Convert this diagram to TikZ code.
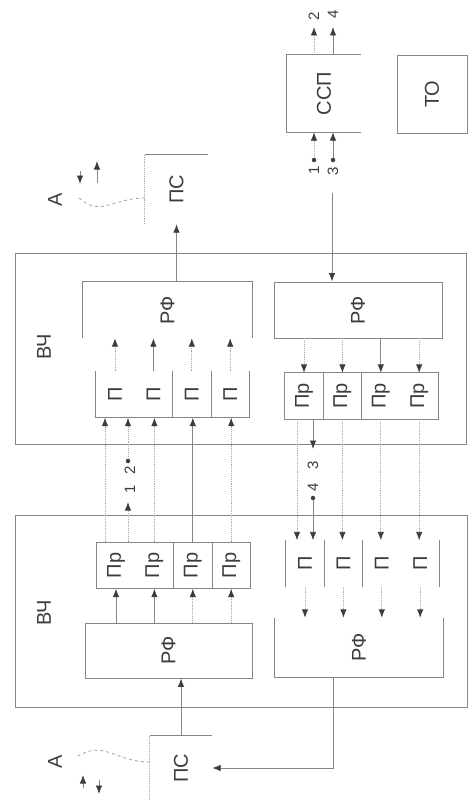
\documentclass[tikz,border=0pt]{standalone}
\usepackage{fontspec}
\setmainfont{Liberation Sans}
\usepackage{tikz}
\usetikzlibrary{arrows.meta,positioning}
\definecolor{ln}{rgb}{0.52,0.52,0.52}
\definecolor{ink}{rgb}{0.24,0.24,0.24}
\newcommand{\rt}[1]{\rotatebox{90}{#1}}

\begin{document}
\begin{tikzpicture}[x=1pt,y=-1pt,
  font=\fontsize{20}{24}\selectfont,text=ink,
  box/.style={draw=ln,line width=0.9pt,inner sep=0pt},
  bare/.style={inner sep=0pt},
  rim/.style={draw=ln,line width=0.9pt},
  faint/.style={draw=ln!70,line width=0.9pt,densely dotted},
  cell/.style={inner sep=0pt,minimum width=38,minimum height=46},
  ar/.style={draw=ln,line width=0.9pt,-{Latex[length=8.5pt,width=6.5pt,color=ink]}},
  fa/.style={ar,draw=ln!70,densely dotted},
  num/.style={font=\fontsize{15}{18}\selectfont,rotate=90,inner sep=0pt},
  jdot/.style={circle,fill=ink,inner sep=0pt,minimum size=4.5pt}]

\useasboundingbox (0,0) rectangle (470,800);
\fill[white] (0,0) rectangle (470,800);

% the two HF units
\node[box,minimum width=451,minimum height=191] (frmT) at (240.5,348.5) {};
\node[box,minimum width=452,minimum height=192] (frmB) at (241,611) {};
\node[rotate=90] (capT) at (44,347) {ВЧ};
\node[rotate=90] (capB) at (44,613) {ВЧ};

% upper unit, sending half
\node[bare,minimum width=169,minimum height=56] (rfTL) at (167.5,310) {\rt{РФ}};
\draw[rim] (rfTL.south west) -- (rfTL.north west) -- (rfTL.north east) -- (rfTL.south east);
\node[cell] (pT1) at (115,394.5) {\rt{П}};
\node[cell,right=0pt of pT1] (pT2) {\rt{П}};
\node[cell,right=0pt of pT2] (pT3) {\rt{П}};
\node[cell,right=0pt of pT3] (pT4) {\rt{П}};
\draw[rim] (pT1.north west) -- (pT1.south west) -- (pT4.south east) -- (pT4.north east);
\draw[rim] (pT2.south east) -- (pT2.north east);
\draw[rim] (pT3.south east) -- (pT3.north east);

% upper unit, receiving half
\node[box,minimum width=168,minimum height=56] (rfTR) at (358,310) {\rt{РФ}};
\node[cell] (rT1) at (304,396) {\rt{Пр}};
\node[cell,right=0pt of rT1] (rT2) {\rt{Пр}};
\node[cell,right=0pt of rT2] (rT3) {\rt{Пр}};
\node[cell,right=0pt of rT3] (rT4) {\rt{Пр}};
\draw[rim] (rT1.north west) rectangle (rT4.south east);
\draw[rim] (rT1.south east) -- (rT1.north east);
\draw[rim] (rT2.south east) -- (rT2.north east);

% lower unit, receiving half
\node[box,minimum width=167,minimum height=55] (rfBL) at (168.5,650.5) {\rt{РФ}};
\node[cell] (rB1) at (116,565.5) {\rt{Пр}};
\node[cell,right=0pt of rB1] (rB2) {\rt{Пр}};
\node[cell,right=0pt of rB2] (rB3) {\rt{Пр}};
\node[cell,right=0pt of rB3] (rB4) {\rt{Пр}};
\draw[rim] (rB1.north west) rectangle (rB4.south east);
\draw[rim] (rB2.south east) -- (rB2.north east);
\draw[rim] (rB3.south east) -- (rB3.north east);

% lower unit, sending half
\node[bare,minimum width=168,minimum height=59] (rfBR) at (359,647.5) {\rt{РФ}};
\draw[rim] (rfBR.north west) -- (rfBR.south west) -- (rfBR.south east) -- (rfBR.north east);
\node[cell] (pB1) at (305,563.5) {\rt{П}};
\node[cell,right=0pt of pB1] (pB2) {\rt{П}};
\node[cell,right=0pt of pB2] (pB3) {\rt{П}};
\node[cell,right=0pt of pB3] (pB4) {\rt{П}};
\draw[rim] (pB1.north west) -- (pB1.south west);
\draw[rim] (pB1.north east) -- (pB1.south east);
\draw[rim] (pB2.north east) -- (pB2.south east);
\draw[rim] (pB4.north east) -- (pB4.south east);

% ПС, ССП, ТО
\node[bare,minimum width=63,minimum height=69] (psT) at (176.5,189.5) {\rt{ПС}};
\draw[rim] (psT.north west) -- (psT.north east);
\draw[faint] (psT.north west) -- (psT.south west);
\node[bare,minimum width=62,minimum height=64] (psB) at (181,768) {\rt{ПС}};
\draw[rim] (psB.north west) -- (psB.north east);
\draw[faint] (psB.north west) -- (psB.south west);
\node[bare,minimum width=74,minimum height=77] (ssp) at (324,93.5) {\rt{ССП}};
\draw[rim] (ssp.north east) -- (ssp.north west) -- (ssp.south west) -- (ssp.south east);
\node[box,minimum width=70,minimum height=78] (tobox) at (432,94) {\rt{ТО}};

% antennas
\node[rotate=90] (antT) at (55,200) {А};
\node[rotate=90] (antB) at (55,762) {А};
\coordinate (tipT) at (78,197);
\coordinate (tipB) at (78,756);
\draw[faint,dashed] ([yshift=-8.5]psT.west) .. controls (112,198) and (100,218) .. (tipT);
\draw[faint,dashed] ([yshift=6]psB.west) .. controls (115,762) and (105,740) .. (tipB);
\draw[ar] (80,171) -- (80,184);
\draw[ar] (97,183) -- (97,161);
\draw[ar] (83,788) -- (83,775);
\draw[ar] (99,780) -- (99,794);

% upper unit links
\draw[ar] (psT.south |- rfTL.north) -- (psT.south);
\draw[fa] (pT1.north) -- (pT1.north |- rfTL.south);
\draw[ar] (pT2.north) -- (pT2.north |- rfTL.south);
\draw[fa] (pT3.north) -- (pT3.north |- rfTL.south);
\draw[fa] (pT4.north) -- (pT4.north |- rfTL.south);
\coordinate (feed) at (332,193);
\draw[ar] (feed) -- (feed |- rfTR.north);
\draw[fa] (rT1.north |- rfTR.south) -- (rT1.north);
\draw[fa] (rT2.north |- rfTR.south) -- (rT2.north);
\draw[ar] (rT3.north |- rfTR.south) -- (rT3.north);
\draw[fa] (rT4.north |- rfTR.south) -- (rT4.north);

% links between the units
\draw[fa] ([xshift=-11]rB1.north) -- ([xshift=-11]rB1.north |- pT1.south);
\draw[fa] (rB2.north) -- (rB2.north |- pT2.south);
\draw[ar] (rB3.north) -- (rB3.north |- pT3.south);
\draw[fa] (rB4.north) -- (rB4.north |- pT4.south);
\coordinate (s1) at (128,502);
\node[jdot] (s2) at (128,461) {};
\draw[fa] ([xshift=12]rB1.north) -- (s1);
\draw[fa] (s2) -- (s2 |- pT1.south);
\node[num] (n1) at (130,489) {1};
\node[num] (n2) at (130,470) {2};

\draw[fa] ([xshift=-7]rT1.south) -- ([xshift=-7]rT1.south |- pB1.north);
\coordinate (s3) at (313,449);
\node[jdot] (s4) at (313,498) {};
\draw[ar] ([xshift=9]rT1.south) -- (s3);
\draw[ar] (s4) -- (s4 |- pB1.north);
\node[num] (n3) at (313,465) {3};
\node[num] (n4) at (313,487) {4};
\draw[fa] (rT2.south) -- (rT2.south |- pB2.north);
\draw[fa] (rT3.south) -- (rT3.south |- pB3.north);
\draw[fa] (rT4.south) -- (rT4.south |- pB4.north);

% lower unit links
\draw[ar] (psB.north) -- (psB.north |- rfBL.south);
\draw[ar] (rB1.south |- rfBL.north) -- (rB1.south);
\draw[ar] (rB2.south |- rfBL.north) -- (rB2.south);
\draw[fa] (rB3.south |- rfBL.north) -- (rB3.south);
\draw[fa] (rB4.south |- rfBL.north) -- (rB4.south);
\draw[fa] (pB1.south) -- (pB1.south |- rfBR.north);
\draw[fa] (pB2.south) -- (pB2.south |- rfBR.north);
\draw[fa] (pB3.south) -- (pB3.south |- rfBR.north);
\draw[fa] (pB4.south) -- (pB4.south |- rfBR.north);
\draw[ar] ([xshift=-26]rfBR.south) |- (psB.east);

% ССП terminals
\node[jdot] (d1) at (314,160) {};
\node[jdot] (d3) at (333,160) {};
\draw[fa] (d1) -- (d1 |- ssp.south);
\draw[ar] (d3) -- (d3 |- ssp.south);
\node[num] (n1s) at (314,170) {1};
\node[num] (n3s) at (333,171) {3};
\coordinate (o2) at (314,27);
\coordinate (o4) at (333,27);
\draw[fa] (o2 |- ssp.north) -- (o2);
\draw[ar] (o4 |- ssp.north) -- (o4);
\node[num] (n2s) at (314,16) {2};
\node[num] (n4s) at (333,14) {4};
\end{tikzpicture}
\end{document}
